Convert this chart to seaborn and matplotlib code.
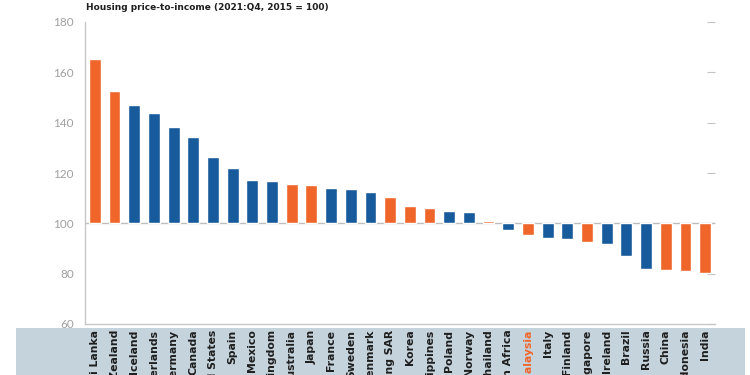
import matplotlib
matplotlib.use("Agg")
import matplotlib.pyplot as plt
import seaborn as sns
import pandas as pd
import numpy as np
from matplotlib.patches import Rectangle

countries = ["Sri Lanka", "New Zealand", "Iceland", "Netherlands", "Germany", "Canada",
             "United States", "Spain", "Mexico", "United Kingdom", "Australia", "Japan",
             "France", "Sweden", "Denmark", "Hong Kong SAR", "Korea", "Philippines",
             "Poland", "Norway", "Thailand", "South Africa", "Malaysia", "Italy",
             "Finland", "Singapore", "Ireland", "Brazil", "Russia", "China",
             "Indonesia", "India"]
values = [165.4, 152.4, 146.9, 143.7, 138.2, 134.2, 126.2, 121.8, 117.4, 116.7, 115.7, 115.1,
          114.1, 113.8, 112.5, 110.6, 107.0, 106.2, 105.0, 104.7, 100.8, 97.3, 95.5, 94.2,
          93.8, 92.6, 91.8, 87.2, 82.0, 81.6, 81.1, 80.3]
asia = ["Sri Lanka", "New Zealand", "Australia", "Japan", "Hong Kong SAR", "Korea",
        "Philippines", "Thailand", "Malaysia", "Singapore", "China", "Indonesia", "India"]
title = "Housing price-to-income (2021:Q4, 2015 = 100)"
yticks = [60, 80, 100, 120, 140, 160, 180]

ORANGE = "#F0652A"
BLUE = "#185B9C"

df = pd.DataFrame({
    "country": countries,
    "value": values,
    "group": ["Asia" if c in asia else "Other" for c in countries],
})
df["height"] = df["value"] - 100

sns.set_style("white")
fig = plt.figure(figsize=(7.5, 3.75), dpi=100)
ax = fig.add_axes([85 / 750, 1 - 324 / 375, 630 / 750, 302 / 375])
ax.set_zorder(2)
ax.patch.set_alpha(0)

# bottom label band
fig.patches.append(Rectangle((16 / 750, 0), 729 / 750, 1 - 328 / 375,
                             transform=fig.transFigure, facecolor="#C5D3DC",
                             edgecolor="none", zorder=-5))

ax.axhline(100, color="#BDBDBD", lw=1, zorder=1)
sns.barplot(data=df, x="country", y="height", hue="group",
            palette={"Asia": ORANGE, "Other": BLUE}, width=0.6,
            bottom=100, legend=False, ax=ax, saturation=1, zorder=3)

ax.set_ylim(60, 180)
ax.set_xlim(-0.5, len(countries) - 0.5)

ax.set_yticks(yticks)
ax.set_yticklabels([str(t) for t in yticks], color="#A0A0A0",
                   family=["Lato", "DejaVu Sans"], fontsize=8.5)
ax.tick_params(axis="y", direction="in", length=6, color="#C4C4C4",
               right=True, labelright=False, pad=8)

ax.set_xticks(range(len(countries)))
ax.set_xticks(np.arange(-0.5, len(countries), 1.0), minor=True)
ax.tick_params(axis="x", which="major", length=0, pad=4)
ax.tick_params(axis="x", which="minor", direction="in", length=5, color="#C4C4C4")
ax.set_xticklabels(countries, rotation=90, fontsize=7.8, fontweight="bold",
                   family=["Liberation Sans Narrow", "DejaVu Sans"], color="#1E1E1E")
for lab in ax.get_xticklabels():
    if lab.get_text() == "Malaysia":
        lab.set_color(ORANGE)

ax.set_xlabel("")
ax.set_ylabel("")
for side in ["top", "right"]:
    ax.spines[side].set_visible(False)
for side in ["left", "bottom"]:
    ax.spines[side].set_color("#C8C8C8")
    ax.spines[side].set_linewidth(1)

fig.text(86 / 750, 1 - 7 / 375, title, fontsize=6.5, fontweight="bold",
         family=["Liberation Sans Narrow", "DejaVu Sans"], color="#1E1E1E",
         ha="left", va="center")

fig.savefig("out.png", dpi=100)
